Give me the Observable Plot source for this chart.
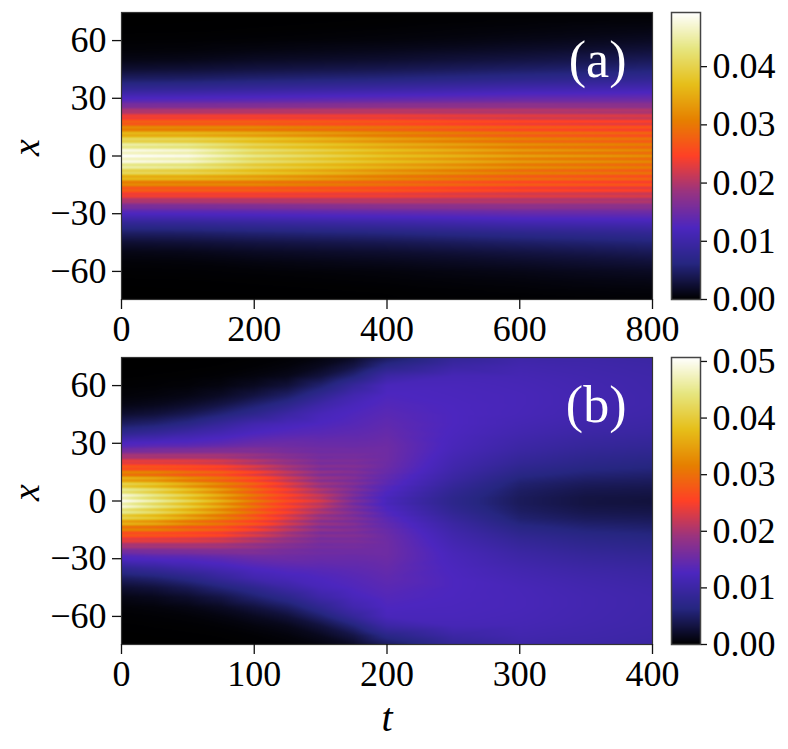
<!DOCTYPE html>
<html>
<head>
<meta charset="utf-8">
<script src="https://cdn.jsdelivr.net/npm/d3@7"></script>
<script src="https://cdn.jsdelivr.net/npm/@observablehq/plot@0.6"></script>
<style>
html,body{margin:0;padding:0;background:#fff}
#fig{position:relative;width:788px;height:749px;overflow:hidden}
#fig svg{position:absolute;overflow:visible;max-width:none}
</style>
</head>
<body>
<div id="fig"></div>
<script>
// CMRmap colour stops
const cmr = ["#000000","#262680","#4c26bf","#993380","#ff4026","#e68000","#e6bf1a","#e6e680","#ffffff"];
const serif = "'Liberation Serif','DejaVu Serif',serif";

// Half-profile positions (|x|); values below are in units of 1e-3
const xs = [0,1.5,3,4.5,6,7.5,9,10.5,12,13.5,15,16.5,18,19.5,21,22.5,24,25.5,27,28.5,30,35,40,45,50,55,60,65,70,75];
const xLimit = 74.6;
const yTicks = [-60,-30,0,30,60];

// Panel (a)
const aTimes = [0,100,200,400,600,800];
const a_t0   = [49.3,46,48.5,43,45.5,39.3,41.3,34.7,36.7,30.2,32.2,26.3,27.9,23.4,24,19.8,19.6,16.2,15.6,13.5,12.3,8,4.8,2.4,1,.4,.15,.05,0,0];
const a_t100 = [48.5,45,47.5,42,44.5,38.5,41,34.5,36.5,30,32,26.2,27.9,23.4,24.1,19.9,19.7,16.4,15.8,13.7,12.5,8.2,5,2.7,1.2,.5,.2,.07,.02,0];
const a_t200 = [44,40,43,38,41,36,39,33,35.5,29.5,32,26.2,27.9,23.4,24.2,20,20,16.7,16.1,14,12.8,8.7,5.5,3.2,1.7,.8,.3,.1,.05,0];
const a_t400 = [38,34.5,37.8,33.5,36.3,31.7,34.5,29.7,32.3,27.5,29.8,25,27.1,22.8,24,20.2,20.4,17.4,16.9,14.8,13.5,9.5,6.2,3.9,2.3,1.3,.6,.3,.1,.05];
const a_t600 = [34.5,30.3,34,29.5,33,28.2,31.5,26.7,29.8,24.9,28,23.2,25.6,21.6,23.2,19.7,20.3,17.6,17.4,15.3,14.2,10.5,7.2,4.9,3.2,2,1.1,.6,.3,.1];
const a_t800 = [32.5,28.3,32,27.6,31.2,26.6,30,25.3,28.6,23.8,27,22.4,24.9,21,22.6,19.3,20,17.4,17.2,15.4,14.4,11,8,5.8,4.2,2.8,1.7,1,.5,.2];
const aColumns = [a_t0,a_t100,a_t200,a_t400,a_t600,a_t800];
const aMax = 49.3;
const aXTicks = [0,200,400,600,800];
const aBarTicks = [0,.01,.02,.03,.04];

// Panel (b)
const bTimes = [0,25,50,75,100,125,150,175,200,250,300,350,400];
const b_t0   = [50.7,46,49.5,43,46,38.8,41.8,34.2,37.2,29.7,32.7,26.1,28.1,23.4,24,19.8,19.8,16.4,15.4,13.3,12.7,8,4.8,2.4,1,.4,.15,.05,0,0];
const b_t25  = [47,41.5,45.5,39.5,43.5,36.5,40,33,36,29,32.5,26,27.6,23.1,23.9,19.7,19.8,16.6,16.1,14,13,9,5.6,3,1.4,.6,.25,.1,.03,0];
const b_t50  = [42.5,37,41.5,35.5,39.5,33,36.8,30.2,33.5,27,30.5,25.2,27.1,22.6,23.7,19.7,19.8,16.9,16.3,14.3,13.3,10.3,7,4.2,2.2,1,.4,.15,.05,0];
const b_t75  = [37.3,32.4,36.6,31.3,35.3,29.7,33.3,27.7,31,26,29,24,26.1,21.6,23,19.3,19.8,17,16.7,15,14,11.5,9,6,3.5,1.8,.8,.3,.1,.03];
const b_t100 = [32,27.8,31.5,27,30.6,26,29.5,24.7,28,23,26,21.4,23.8,19.6,21.2,18,19,16.8,17,15.6,15,12.8,11,7.8,5.5,3.2,1.6,.7,.25,.1];
const b_t125 = [27,23.8,26.5,23.1,25.7,22.1,24.5,21,23.3,19.9,22,18.9,20.4,17.9,18.9,17,17.4,16.1,16.2,15.5,15.3,13.5,12,10,7.5,5,2.8,1.3,.6,.25];
const b_t150 = [23.2,20.5,22.2,19.2,21,18,19.9,17.1,19.2,16.5,18.6,16,17.6,15.9,16.8,15.7,16.2,15.4,15.7,15.2,15,13.8,12.8,12,10.3,8,5.5,3,1.5,.7];
const b_t175 = [17.2,15.3,17.2,15.6,17.4,15.8,17.5,16,17.5,16.2,17.4,16.2,17.3,16.2,16.8,15.9,16.2,15.6,15.6,15.1,15,14.2,13.5,13,12.2,11,9,6,3.5,1.8];
const b_t200 = [12.3,12,12.7,12.7,13.3,13.3,14,14,14.5,14.5,15,15,15.3,15.3,15.5,15.5,15.5,15.5,15.5,15.4,15.3,14.8,14.3,13.8,13.3,12.8,12.2,10,7,4.5];
const b_t250 = [7.5,7.5,7.8,8,8.3,8.7,9,9.4,9.8,10,10.3,10.6,10.8,11,11.2,11.4,11.6,11.8,12,12.1,12.2,12.5,12.7,12.7,12.6,12.4,12.2,11.7,10,8.5];
const b_t300 = [4.5,4.5,4.7,4.8,5,5.3,5.5,5.9,6.3,6.8,7.2,7.6,8,8.4,8.7,9,9.3,9.6,9.9,10.1,10.3,11,11.5,11.9,12,12,11.8,11.5,11,10.3];
const b_t350 = [3.3,3.3,3.5,3.7,3.9,4.2,4.5,4.9,5.3,5.7,6.1,6.5,6.9,7.2,7.5,7.8,8.1,8.4,8.7,9,9.2,10,10.6,11,11.2,11.2,11.1,10.9,10.6,10.2];
const b_t400 = [3,3.1,3.3,3.5,3.7,4,4.3,4.6,5,5.3,5.7,6.1,6.4,6.7,7,7.3,7.6,7.9,8.2,8.5,8.7,9.5,10,10.4,10.6,10.6,10.5,10.4,10.2,9.8];
const bColumns = [b_t0,b_t25,b_t50,b_t75,b_t100,b_t125,b_t150,b_t175,b_t200,b_t250,b_t300,b_t350,b_t400];
const bMax = 50.7;
const bXTicks = [0,100,200,300,400];
const bBarTicks = [0,.01,.02,.03,.04,.05];

function table(times, columns) {
  const rows = [];
  times.forEach((t, j) => xs.forEach((x, i) => {
    rows.push({t, x, v: columns[j][i] / 1000});
    if (x > 0) rows.push({t, x: -x, v: columns[j][i] / 1000});
  }));
  return rows;
}
const ramp = d3.piecewise(d3.interpolateRgb, cmr);
const place = (svg, left, top) => {
  svg.style.left = left + "px"; svg.style.top = top + "px";
  svg.style.background = "transparent";
  document.getElementById("fig").appendChild(svg);
};

function heat({rows, tMax, ticks, vmax, tag, tagDy, top, height, marginBottom, xLabel}) {
  const marks = [
    Plot.raster(rows, {x:"t", y:"x", fill:"v", interpolate:"barycentric", pixelSize:1}),
    Plot.frame({stroke:"#333", strokeWidth:1.2}),
    Plot.axisX({ticks, tickSize:10, tickPadding:6, label:null, fontSize:36, stroke:"#111", strokeWidth:1.3, fill:"#000", tickFormat:d3.format("d")}),
    Plot.axisY({ticks:yTicks, tickSize:9, tickPadding:6, label:null, fontSize:36, stroke:"#111", strokeWidth:1.3, fill:"#000"}),
    Plot.text(["x"], {frameAnchor:"left", dx:-95, rotate:-90, fontStyle:"italic", fontSize:38, fill:"#000"}),
    Plot.text([tag], {frameAnchor:"top-right", dx:-26, dy:tagDy, fontSize:52, fill:"#fff", lineAnchor:"middle"})
  ];
  if (xLabel) marks.push(Plot.text([xLabel], {frameAnchor:"bottom", dy:86, fontStyle:"italic", fontSize:40, fill:"#000", lineAnchor:"bottom"}));
  const svg = Plot.plot({
    width:680, height, marginLeft:121, marginRight:28, marginTop:12, marginBottom,
    style:{fontFamily:serif, background:"transparent", overflow:"visible"},
    x:{domain:[0,tMax]}, y:{domain:[-xLimit,xLimit]},
    color:{type:"linear", domain:[0,vmax], interpolate:ramp, clamp:true},
    marks
  });
  place(svg, 0, top);
}

function bar({vmax, ticks, top}) {
  const svg = Plot.plot({
    width:128, height:350, marginLeft:11, marginRight:88, marginTop:12, marginBottom:51,
    style:{fontFamily:serif, background:"transparent", overflow:"visible"},
    x:{domain:[0,1], axis:null}, y:{domain:[0,vmax], axis:null},
    color:{type:"linear", domain:[0,vmax], interpolate:ramp},
    marks:[
      Plot.raster({x1:0, x2:1, y1:0, y2:vmax, fill:(x,y)=>y, pixelSize:1}),
      Plot.frame({stroke:"#444", strokeWidth:1.5}),
      Plot.axisY({anchor:"right", ticks, tickSize:6, tickPadding:6, label:null, fontSize:36, stroke:"#111", strokeWidth:1.3, fill:"#000", tickFormat:d3.format(".2f")})
    ]
  });
  place(svg, 660, top);
}

heat({rows:table(aTimes,aColumns), tMax:800, ticks:aXTicks, vmax:aMax/1000, tag:"(a)", tagDy:48, top:0, height:350, marginBottom:51});
bar({vmax:aMax/1000, ticks:aBarTicks, top:0});
heat({rows:table(bTimes,bColumns), tMax:400, ticks:bXTicks, vmax:bMax/1000, tag:"(b)", tagDy:48, top:345, height:404, marginBottom:105, xLabel:"t"});
bar({vmax:bMax/1000, ticks:bBarTicks, top:345});
</script>
</body>
</html>
